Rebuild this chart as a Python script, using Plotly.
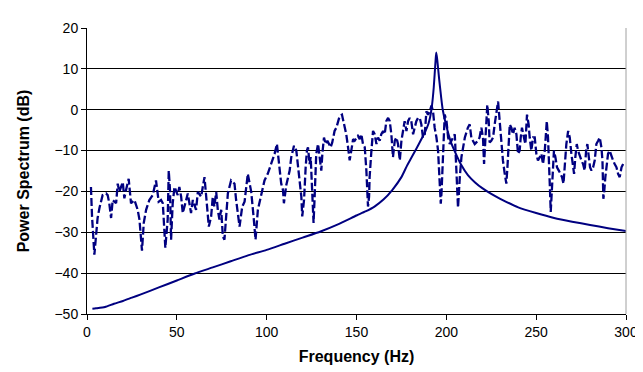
import plotly.graph_objects as go

# Solid series: resonance curve (frequency, dB)
solid_f = [3, 5, 10, 15, 20, 25, 30, 40, 50, 60, 70, 80, 90, 100, 110, 120, 130, 140, 150, 155,
           160, 165, 170, 175, 178, 180, 183, 186, 188, 190, 191, 192, 193, 194, 194.4, 195, 196,
           197, 198, 200, 202.6, 205, 208, 212, 216, 220, 225, 230, 240, 250, 260, 270, 280, 290, 300]
solid_db = [-48.7, -48.6, -48.3, -47.5, -46.8, -46.0, -45.2, -43.5, -41.8, -40.1, -38.6, -37.1, -35.6,
            -34.3, -32.8, -31.3, -29.8, -28.0, -25.9, -24.9, -23.7, -22.0, -19.6, -16.5, -13.8, -12.2,
            -9.8, -7.3, -5.6, -3.5, -1.8, 1.0, 5.5, 12.0, 14.0, 12.0, 7.5, 3.5, 0.0, -4.0, -8.0, -10.5,
            -13.3, -16.0, -17.8, -19.2, -20.6, -21.8, -23.9, -25.3, -26.5, -27.4, -28.2, -29.0, -29.7]

# Dashed series: measured spectrum (frequency, dB)
dash_f = [2.2, 2.8, 4.1, 5.0, 5.9, 6.9, 8.7, 10.6, 11.5, 12.4, 13.4, 14.3, 16.2, 17.1, 18.0, 19.9,
          20.8, 21.7, 23.2, 24.5, 26.4, 28.2, 29.2, 30.6, 31.6, 32.9, 34.7, 36.6, 38.4, 39.9, 41.2,
          42.2, 43.6, 44.9, 45.5, 46.2, 46.8, 47.7, 48.7, 50.5, 51.4, 52.4, 53.3, 55.2, 56.1, 57.0,
          57.9, 58.9, 60.7, 61.7, 63.5, 65.4, 66.3, 67.2, 67.8, 69.1, 70.0, 70.9, 71.9, 72.8, 73.7,
          74.7, 75.6, 76.5, 77.1, 78.4, 80.2, 82.1, 83.0, 84.9, 86.4, 87.7, 89.5, 91.4, 92.7, 93.8,
          95.1, 96.9, 98.8, 100.6, 102.5, 104.4, 105.7, 107.2,
          108.1, 109.1, 109.6, 110.9, 112.8, 113.7, 115.2, 116.5, 117.4, 118.3, 119.3, 119.8, 120.8,
          121.7, 122.4, 123.0, 123.9, 124.5, 125.4, 126.1, 126.7, 127.6, 128.6, 129.5, 130.4, 131.0,
          131.9, 132.8, 133.8, 134.7, 135.6, 136.5, 137.8, 138.8, 139.7, 140.6, 141.9, 143.0, 144.3,
          145.3, 146.2, 147.1, 148.1, 149.0, 149.9, 150.8, 151.8, 152.7, 153.6, 154.6, 155.5, 156.0,
          156.4, 157.0, 157.3, 158.3, 159.2, 160.1, 161.1, 162.0, 162.9, 163.8, 164.8, 165.7, 166.6,
          167.6, 168.5, 169.4, 170.3, 171.3, 172.2, 173.1, 174.1, 175.0, 175.9, 176.8, 177.8, 178.7,
          179.6, 180.5, 181.5, 182.4, 183.3, 184.3, 185.2, 186.1, 187.0, 188.0, 188.9, 189.8, 190.8,
          191.7, 192.6, 193.5, 194.5, 195.4, 196.3, 196.9, 197.3, 198.2, 199.1, 200.1, 201.0, 201.9,
          202.8, 203.8, 204.7, 205.6, 206.5, 207.5, 208.4, 210.3, 211.2,
          212.0, 213.0, 213.9, 214.8, 215.8, 216.7, 217.6, 218.5, 219.5, 220.4, 221.0, 221.7, 222.3,
          222.8, 223.6, 224.1, 225.0, 226.0, 226.9, 227.8, 228.8, 229.7, 230.6, 231.5, 232.5, 233.4,
          234.0, 234.7, 235.3, 236.2, 237.1, 238.0, 239.0, 239.9, 240.8, 241.4, 242.1, 243.2, 244.0,
          244.9, 245.8, 246.4, 247.3, 248.3, 249.2, 250.1, 251.0, 252.0, 252.9, 253.8, 254.8, 255.3,
          255.9, 256.6, 257.2, 257.7, 258.1, 258.8, 259.4, 259.9, 260.7, 261.6, 262.6, 263.5, 264.4,
          265.2, 265.9, 266.8, 267.8, 268.7, 269.6, 270.5, 271.1, 271.8, 272.6, 273.3, 274.3, 275.2,
          276.1, 277.0, 277.8, 278.5, 279.3, 280.0, 280.8, 281.7, 282.6, 283.5, 284.5, 285.4, 286.3,
          286.9, 287.4, 287.8, 288.5, 289.3, 290.0, 290.9, 291.9, 292.8, 293.7, 294.7, 295.6, 296.5,
          297.5, 298.4]
dash_db = [-18.9, -26.1, -35.5, -31.0, -26.5, -24.1, -20.9, -20.5, -20.9, -22.9, -26.5, -22.1, -22.9,
           -18.1, -20.1, -17.7, -21.7, -19.7, -16.9, -22.9, -22.1, -24.5, -26.9, -34.5, -27.7, -24.5,
           -22.1, -20.9, -17.3, -22.5, -22.1, -22.9, -33.8, -26.9, -14.9, -19.7, -31.8, -22.9, -18.9,
           -20.9, -18.9, -21.3, -25.3, -22.1, -20.5, -22.9, -25.3, -22.1, -24.5, -20.1, -21.3, -16.5,
           -21.3, -24.5, -28.6, -26.1, -21.3, -23.7, -20.1, -24.5, -26.9, -24.5, -31.0, -31.8, -27.7,
           -20.5, -17.3, -18.1, -22.1, -28.6, -23.7, -22.5, -15.7, -20.1, -26.1, -31.8, -24.5, -21.3,
           -17.3, -15.7, -13.3, -10.8, -8.4, -14.1,
           -18.1, -19.7, -22.9, -18.5, -14.9, -11.6, -8.8, -10.0, -14.1, -16.5, -21.3, -26.1, -22.1,
           -14.1, -10.0, -9.2, -13.3, -11.6, -19.7, -27.7, -21.3, -10.8, -8.4, -12.4, -14.9, -10.8,
           -6.8, -8.4, -7.6, -8.4, -9.2, -8.0, -5.2, -4.4, -2.8, -1.6, -1.2, -3.6, -6.0,
           -9.2, -12.4, -10.0, -7.2, -7.6, -6.8, -6.4, -7.2, -6.0, -8.4, -9.2, -14.9, -19.7,
           -23.7, -21.3, -16.5, -10.0, -5.2, -6.0, -8.4, -6.8, -7.6, -6.0, -5.2, -6.0, -2.8,
           -2.0, -2.8, -6.0, -11.6, -7.6, -6.8, -8.4, -12.4, -7.6, -5.2, -2.8, -5.2, -2.8,
           -2.0, -2.8, -6.0, -4.4, -2.8, -2.0, -2.0, -3.6, -6.8, -6.0, -0.4, -1.2, -0.4,
           1.0, -0.4, -4.4, -6.8, -10.0, -18.1, -23.0, -20.5, -8.4, -1.2, -2.8, -6.8, -8.4,
           -7.6, -6.8, -6.0, -14.9, -24.0, -16.5, -11.6, -6.8, -5.2,
           -4.4, -3.6, -6.8, -7.6, -8.4, -8.0, -7.6, -6.8, -4.4, -6.8, -13.3, -7.6, -2.0,
           1.2, -2.8, -8.0, -7.6, -6.8, -3.6, -0.4, 2.0, -2.8, -8.4, -12.4, -15.7, -18.1,
           -14.1, -8.4, -3.6, -4.4, -6.0, -4.4, -6.0, -10.8, -10.0, -6.8, -4.4, -6.8, -8.4,
           -1.2, -3.6, -6.8, -10.0, -6.8, -6.8, -10.8, -12.4, -11.6, -10.8, -13.3, -10.0, -6.8,
           -2.8, -6.8, -12.4, -19.7, -25.0, -19.7, -12.4, -10.0, -11.6, -14.1, -14.9, -15.7, -16.5,
           -18.1, -13.3, -8.4, -5.2, -6.8, -10.8, -14.1, -15.7, -11.6, -8.4, -10.0, -11.6, -12.4,
           -13.3, -14.9, -10.0, -8.4, -11.6, -14.1, -14.9, -14.1, -12.4, -8.4, -7.6, -6.8, -9.2,
           -12.4, -21.8, -20.5, -16.5, -12.4, -10.8, -10.0, -11.6, -12.4, -13.3, -14.1, -15.7, -16.5,
           -14.1, -13.3]

x_ticks = [0, 50, 100, 150, 200, 250, 300]
y_ticks = [-50, -40, -30, -20, -10, 0, 10, 20]

navy = "#000080"
fig = go.Figure()
fig.add_trace(go.Scatter(x=dash_f, y=dash_db, mode="lines",
                         line=dict(color=navy, width=2.3, dash="8px,3px"), showlegend=False))
fig.add_trace(go.Scatter(x=solid_f, y=solid_db, mode="lines", line_shape="spline",
                         line=dict(color=navy, width=2, smoothing=0.6), showlegend=False))

font_family = "Liberation Sans, Arial, sans-serif"
fig.update_layout(
    width=643, height=372,
    margin=dict(l=79, r=25, t=16, b=66),
    paper_bgcolor="white", plot_bgcolor="white",
    font=dict(family=font_family, size=14, color="black"),
    xaxis=dict(range=[0, 300], tickvals=x_ticks, showgrid=False, zeroline=False,
               showline=True, linecolor="black", linewidth=1,
               ticks="outside", ticklen=5, tickcolor="black",
               title=dict(text="<b>Frequency (Hz)</b>", font=dict(size=16), standoff=12)),
    yaxis=dict(range=[-50, 20], tickvals=y_ticks, showgrid=True, gridcolor="black", gridwidth=1,
               zeroline=False, showline=True, linecolor="black", linewidth=1,
               ticks="outside", ticklen=5, tickcolor="black",
               title=dict(text="<b>Power Spectrum (dB)</b>", font=dict(size=16), standoff=20)),
    shapes=[dict(type="line", xref="paper", yref="paper", x0=1, x1=1, y0=0, y1=1,
                 line=dict(color="#a0a0a0", width=1))],
)

fig.write_html("out.html")
